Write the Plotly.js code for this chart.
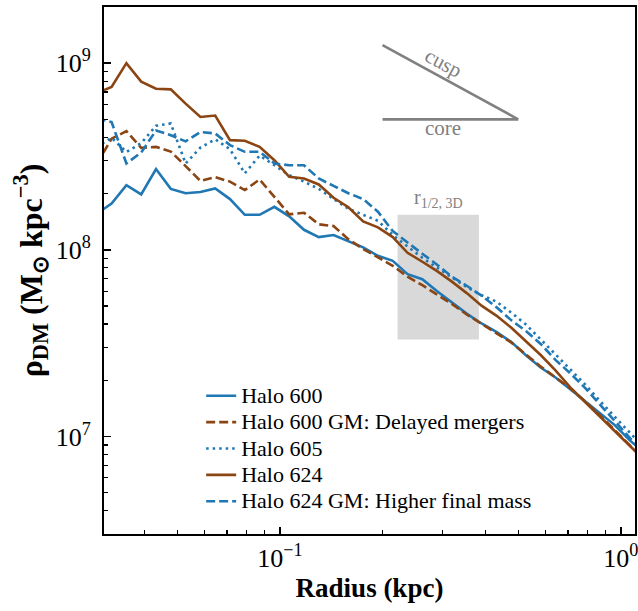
<!DOCTYPE html>
<html><head><meta charset="utf-8">
<script src="https://cdn.plot.ly/plotly-3.0.1.min.js"></script>
<style>html,body{margin:0;padding:0;background:#fff}#chart{width:638px;height:611px}</style>
</head><body><div id="chart"></div>
<script>
// Radius bins (kpc)
const radius = [0.02904, 0.03210, 0.03548, 0.03921, 0.04333, 0.04788, 0.05292, 0.05848, 0.06462, 0.07141,
  0.07892, 0.08721, 0.09636, 0.10649, 0.11768, 0.13004, 0.14370, 0.15880, 0.17548, 0.19392,
  0.21429, 0.23680, 0.26167, 0.28917, 0.31955, 0.35312, 0.39021, 0.43121, 0.47650, 0.52656,
  0.58188, 0.64300, 0.71055, 0.78520, 0.86768, 0.95963, 1.0605, 1.1720];

// Dark-matter density (Msun / kpc^3)
const halo600 = [1.56e8, 1.77e8, 2.22e8, 1.98e8, 2.71e8, 2.12e8, 2.01e8, 2.04e8, 2.13e8, 1.87e8,
  1.54e8, 1.54e8, 1.70e8, 1.51e8, 1.28e8, 1.17e8, 1.20e8, 1.11e8, 1.03e8, 9.29e7,
  8.73e7, 7.40e7, 6.96e7, 6.00e7, 5.21e7, 4.55e7, 4.03e7, 3.63e7, 3.21e7, 2.72e7,
  2.34e7, 2.07e7, 1.79e7, 1.54e7, 1.33e7, 1.15e7, 9.55e6, 8.14e6];
const halo600GM = [2.88e8, 3.94e8, 4.32e8, 3.52e8, 3.56e8, 3.36e8, 2.81e8, 2.34e8, 2.45e8, 2.32e8,
  2.09e8, 2.38e8, 1.92e8, 1.55e8, 1.58e8, 1.37e8, 1.34e8, 1.14e8, 1.01e8, 9.06e7,
  8.21e7, 7.18e7, 6.46e7, 5.75e7, 5.12e7, 4.50e7, 4.00e7, 3.58e7, 3.19e7, 2.75e7,
  2.37e7, 2.07e7, 1.81e7, 1.54e7, 1.30e7, 1.08e7, 8.98e6, 7.47e6];
const halo605 = [3.55e8, 3.99e8, 3.34e8, 3.73e8, 4.62e8, 4.75e8, 2.90e8, 3.53e8, 3.91e8, 3.46e8,
  2.57e8, 3.20e8, 2.84e8, 2.51e8, 2.32e8, 2.12e8, 1.87e8, 1.66e8, 1.54e8, 1.43e8,
  1.20e8, 1.04e8, 9.06e7, 8.01e7, 7.09e7, 6.31e7, 5.71e7, 5.28e7, 4.61e7, 3.98e7,
  3.31e7, 2.75e7, 2.30e7, 1.90e7, 1.55e7, 1.28e7, 1.05e7, 8.66e6];
const halo624 = [6.93e8, 7.45e8, 1.0e9, 7.96e8, 7.30e8, 7.24e8, 6.07e8, 5.15e8, 5.24e8, 3.87e8,
  3.84e8, 3.56e8, 3.02e8, 2.46e8, 2.41e8, 2.24e8, 1.90e8, 1.69e8, 1.42e8, 1.32e8,
  1.17e8, 9.64e7, 8.63e7, 7.68e7, 6.75e7, 5.86e7, 5.02e7, 4.44e7, 3.83e7, 3.23e7,
  2.73e7, 2.26e7, 1.83e7, 1.53e7, 1.28e7, 1.07e7, 8.95e6, 7.47e6];
const halo624GM = [5.07e8, 4.84e8, 2.90e8, 3.32e8, 4.36e8, 4.11e8, 3.81e8, 4.28e8, 4.20e8, 3.64e8,
  3.35e8, 3.35e8, 2.90e8, 2.84e8, 2.84e8, 2.41e8, 2.20e8, 2.01e8, 1.87e8, 1.60e8,
  1.26e8, 1.09e8, 9.52e7, 8.32e7, 7.18e7, 6.42e7, 5.68e7, 4.93e7, 4.20e7, 3.67e7,
  3.13e7, 2.57e7, 2.18e7, 1.82e7, 1.49e7, 1.21e7, 9.91e6, 8.04e6];

const seriesNames = ['Halo 600', 'Halo 600 GM: Delayed mergers', 'Halo 605', 'Halo 624', 'Halo 624 GM: Higher final mass'];

// Half-light radius band and slope guides (data units)
const rHalfRange = [0.2214, 0.3834];
const rHalfDensity = [3.31e7, 1.54e8];
const guideX = [0.2, 0.5];
const cuspY = [1.25e9, 5e8];
const coreY = [5e8, 5e8];

// Axis ticks
const xMajor = [0.1, 1];
const xMajorText = ['10<sup>\u22121</sup>', '10<sup>0</sup>'];
const xMinor = [0.04, 0.05, 0.06, 0.07, 0.08, 0.09, 0.2, 0.3, 0.4, 0.5, 0.6, 0.7, 0.8, 0.9];
const yMajor = [1e7, 1e8, 1e9];
const yMajorText = ['10<sup>7</sup>', '10<sup>8</sup>', '10<sup>9</sup>'];
const yMinor = [3e6, 4e6, 5e6, 6e6, 7e6, 8e6, 9e6, 2e7, 3e7, 4e7, 5e7, 6e7, 7e7, 8e7, 9e7,
  2e8, 3e8, 4e8, 5e8, 6e8, 7e8, 8e8, 9e8, 2e9];

const BLUE = '#1f77b4', BROWN = '#8b4513', GRAY = '#808080';
const FONT = 'Liberation Serif, Times New Roman, serif';

const styles = [
  {color: BLUE, dash: 'solid'},
  {color: BROWN, dash: '9px,4px'},
  {color: BLUE, dash: '2.5px,4px'},
  {color: BROWN, dash: 'solid'},
  {color: BLUE, dash: '9px,4px'}
];
const series = [halo600, halo600GM, halo605, halo624, halo624GM];

const traces = series.map((ys, i) => ({
  type: 'scatter', mode: 'lines', x: radius, y: ys,
  name: '<span style="font-size:22px">' + seriesNames[i] + '</span>',
  line: {color: styles[i].color, width: 2.6, dash: styles[i].dash}
}));

const layout = {
  width: 638, height: 611,
  margin: {l: 104, r: 3, t: 7, b: 77},
  paper_bgcolor: '#fff', plot_bgcolor: '#fff',
  font: {family: FONT, color: '#000'},
  showlegend: true,
  legend: {
    x: 0.183, y: 0.297, xanchor: 'left', yanchor: 'top',
    bgcolor: 'rgba(0,0,0,0)', borderwidth: 0,
    font: {family: FONT, size: 18, color: '#000'},
    tracegroupgap: 0
  },
  xaxis: {
    type: 'log', range: [Math.log10(0.0305), Math.log10(1.1)],
    showgrid: false, zeroline: false,
    showline: true, linecolor: '#000', linewidth: 2, mirror: true,
    ticks: 'inside', ticklen: 7, tickwidth: 1.5, tickcolor: '#000',
    tickmode: 'array', tickvals: xMajor, ticktext: xMajorText,
    ticklabeloverflow: 'allow',
    tickfont: {family: FONT, size: 26, color: '#000'},
    minor: {ticks: 'inside', ticklen: 4, tickwidth: 1.2, tickcolor: '#000', tickmode: 'array', tickvals: xMinor},
    title: {text: '<b>Radius (kpc)</b>', font: {family: FONT, size: 27, color: '#000'}, standoff: 6}
  },
  yaxis: {
    type: 'log', range: [Math.log10(3e6), Math.log10(2e9)],
    showgrid: false, zeroline: false,
    showline: true, linecolor: '#000', linewidth: 2, mirror: true,
    ticks: 'inside', ticklen: 7, tickwidth: 1.5, tickcolor: '#000',
    tickmode: 'array', tickvals: yMajor, ticktext: yMajorText,
    ticklabeloverflow: 'allow', ticklabelstandoff: 6,
    tickfont: {family: FONT, size: 26, color: '#000'},
    minor: {ticks: 'inside', ticklen: 4, tickwidth: 1.2, tickcolor: '#000', tickmode: 'array', tickvals: yMinor},
    title: {text: '<b>\u03C1<sub>DM</sub> (M<sub>\u2299</sub> kpc<sup>\u22123</sup>)</b>', font: {family: FONT, size: 32, color: '#000'}, standoff: 4}
  },
  shapes: [
    {type: 'rect', xref: 'x', yref: 'y', x0: rHalfRange[0], x1: rHalfRange[1], y0: rHalfDensity[0], y1: rHalfDensity[1],
     fillcolor: '#d9d9d9', line: {width: 0}, layer: 'below'},
    {type: 'line', xref: 'x', yref: 'y', x0: guideX[0], x1: guideX[1], y0: cuspY[0], y1: cuspY[1],
     line: {color: GRAY, width: 2.6}},
    {type: 'line', xref: 'x', yref: 'y', x0: guideX[0], x1: guideX[1], y0: coreY[0], y1: coreY[1],
     line: {color: GRAY, width: 2.6}}
  ],
  annotations: [
    {xref: 'paper', yref: 'paper', x: 0.639, y: 0.893, text: 'cusp', showarrow: false, textangle: 28.5,
     font: {family: FONT, size: 21, color: GRAY}, xanchor: 'center', yanchor: 'middle'},
    {xref: 'paper', yref: 'paper', x: 0.638, y: 0.770, text: 'core', showarrow: false,
     font: {family: FONT, size: 21, color: GRAY}, xanchor: 'center', yanchor: 'middle'},
    {xref: 'paper', yref: 'paper', x: 0.6296, y: 0.609, text: 'r<sub>1/2, 3D</sub>', showarrow: false,
     font: {family: FONT, size: 20, color: GRAY}, xanchor: 'center', yanchor: 'bottom'}
  ]
};

Plotly.newPlot('chart', traces, layout, {displayModeBar: false, staticPlot: true});
</script>
</body></html>
